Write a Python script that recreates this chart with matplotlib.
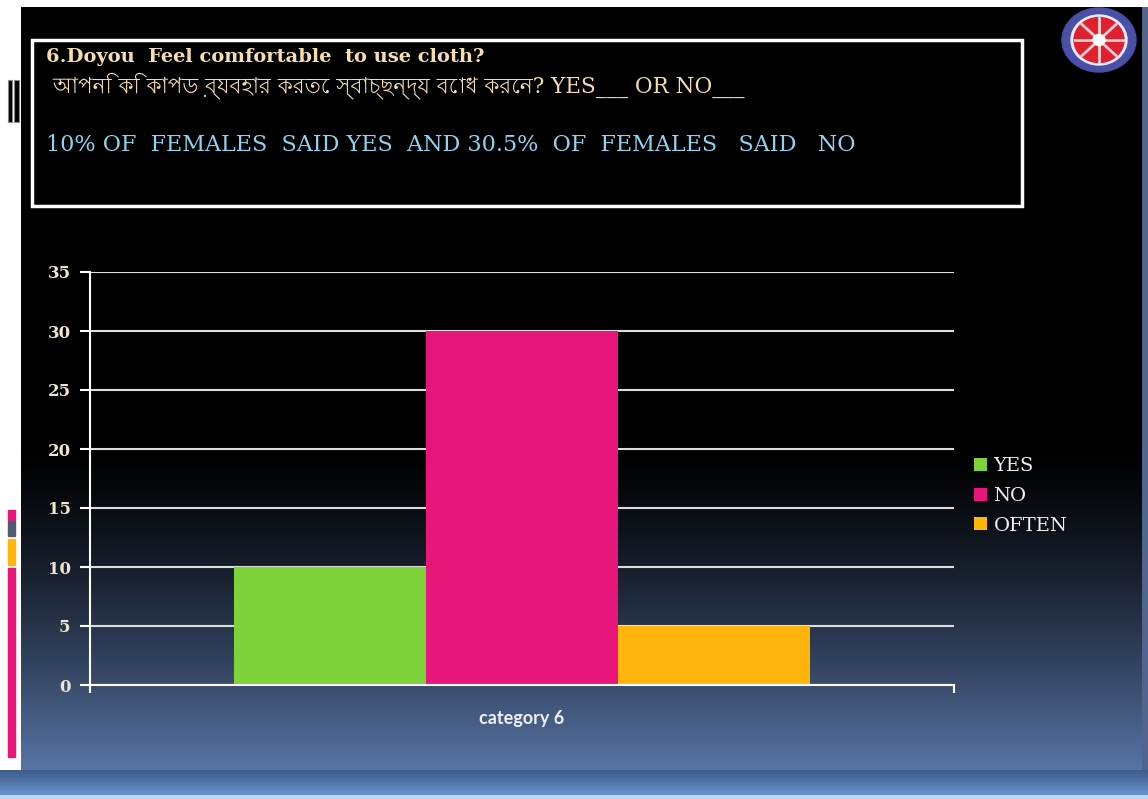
import numpy as np
import matplotlib
matplotlib.use("Agg")
import matplotlib.pyplot as plt
from matplotlib import font_manager
from matplotlib.patches import Rectangle, Ellipse

# chart data
categories = ["category 6"]
series = ["YES", "NO", "OFTEN"]
values = [10, 30, 5]
colors = ["#7ED23A", "#E8157A", "#FFB50B"]
yticks = [0, 5, 10, 15, 20, 25, 30, 35]

title_en = "6.Doyou  Feel comfortable  to use cloth?"
title_bn = " আপনি কি কাপড় ব্যবহার করতে স্বাচ্ছন্দ্য বোধ করেন? YES___ OR NO___"
summary = "10% OF  FEMALES  SAID YES  AND 30.5%  OF  FEMALES   SAID   NO"

W, H = 1148, 799

# Latin from DejaVu Serif, Bengali from whatever Bengali font is installed
beng = [f.name for f in font_manager.fontManager.ttflist
        if "Bengali" in f.name or "Lohit" in f.name]
serif = ["DejaVu Serif"] + beng[:1]

fig = plt.figure(figsize=(W / 100, H / 100), dpi=100)

# slide background
bg = fig.add_axes([0, 0, 1, 1])
bg.set_xlim(0, W)
bg.set_ylim(H, 0)
bg.axis("off")

img = np.ones((H, W, 3))
rows = np.arange(H)
t = np.clip((rows - 440) / 330.0, 0, 1) ** 1.4
top = np.array([0.0, 0.0, 0.0])
bot = np.array([88, 117, 166]) / 255.0
grad = top[None, :] + t[:, None] * (bot - top)[None, :]
img[7:770, 21:1142] = grad[7:770, None, :]
# band below the slide
band = np.linspace(0, 1, 25)[:, None]
img[770:795, :] = (np.array([62, 92, 140]) / 255.0 * (1 - band)
                   + np.array([104, 146, 200]) / 255.0 * band)[:, None, :]
img[795:, :] = np.array([190, 215, 242]) / 255.0
img[7:770, 1142:] = np.array([80, 100, 140]) / 255.0
img[0:7, :] = 1.0
img[7:770, 0:21] = 1.0
bg.imshow(img, extent=(0, W, H, 0), aspect="auto", zorder=0)

# left edge decorations
for y0, y1, c in [(510, 520, "#E8157A"), (521, 536, "#4F5B6E"),
                  (539, 565, "#FFB50B"), (568, 757, "#E8157A")]:
    bg.add_patch(Rectangle((8, y0), 7, y1 - y0, color=c, zorder=1))
for x0, w in [(8, 4), (14, 5)]:
    bg.add_patch(Rectangle((x0, 80), w, 42, facecolor="black",
                           edgecolor="#888888", lw=0.8, zorder=1))

# logo
bg.add_patch(Ellipse((1099, 40), 74, 64, color="#4A4FA8", zorder=1))
bg.add_patch(Ellipse((1099, 40), 56, 50, color="#E8ECF5", zorder=1))
bg.add_patch(Ellipse((1099, 40), 50, 45, color="#E02030", zorder=2))
for a in np.arange(0, 180, 45):
    r = np.deg2rad(a)
    bg.plot([1099 - 24 * np.cos(r), 1099 + 24 * np.cos(r)],
            [40 - 22 * np.sin(r), 40 + 22 * np.sin(r)],
            color="#F4D0D0", lw=2, zorder=3)
bg.add_patch(Ellipse((1099, 40), 12, 11, color="white", zorder=4))

# text box
bg.add_patch(Rectangle((32, 40), 990, 166, fill=False,
                       edgecolor="white", lw=2.5, zorder=2))
bg.text(46, 57, title_en, color="#F5DDB0", fontsize=14, fontweight="bold",
        family=serif, va="center", ha="left", zorder=3)
bg.text(46, 86, title_bn, color="#F5DDB0", fontsize=15.5,
        family=serif, va="center", ha="left", zorder=3)
bg.text(46, 145, summary, color="#8ED2F0", fontsize=16,
        family=serif, va="center", ha="left", zorder=3)

# chart
ax = fig.add_axes([90 / W, (H - 685) / H, 864 / W, (685 - 272) / H])
ax.set_facecolor("none")
width = 0.2222
offsets = [-width, 0, width]
for name, v, c, o in zip(series, values, colors, offsets):
    ax.bar(o, v, width, color=c, label=name, zorder=2)

ax.set_xlim(-0.5, 0.5)
ax.set_ylim(0, 35)
ax.set_yticks(yticks)
ax.set_yticklabels([str(v) for v in yticks], family="DejaVu Serif",
                   fontsize=12, color="#EFE4CC", fontweight="bold")
ax.grid(axis="y", color="#DDDDDD", lw=1.5, zorder=0)
ax.tick_params(axis="y", length=7, width=1.5, color="white", pad=7)

ax.set_xticks([0])
ax.set_xticklabels(categories, family="Lato", fontsize=13, color="#F0F0F0",
                   fontweight="bold")
ax.tick_params(axis="x", length=0, pad=18)
ax.set_xticks([-0.5, 0.5], minor=True)
ax.tick_params(axis="x", which="minor", length=6, width=1.5, color="white")

for s in ["top", "right"]:
    ax.spines[s].set_visible(False)
for s in ["left", "bottom"]:
    ax.spines[s].set_color("white")
    ax.spines[s].set_linewidth(1.5)

leg = ax.legend(loc="center left", bbox_to_anchor=(974 / W, 1 - 496 / H),
                bbox_transform=fig.transFigure, frameon=False,
                handlelength=0.65, handleheight=0.65, handletextpad=0.35,
                labelspacing=0.6, borderpad=0, borderaxespad=0,
                prop={"family": "DejaVu Serif", "size": 14})
for txt in leg.get_texts():
    txt.set_color("#F2F2F2")

fig.savefig("out.png", dpi=100)
